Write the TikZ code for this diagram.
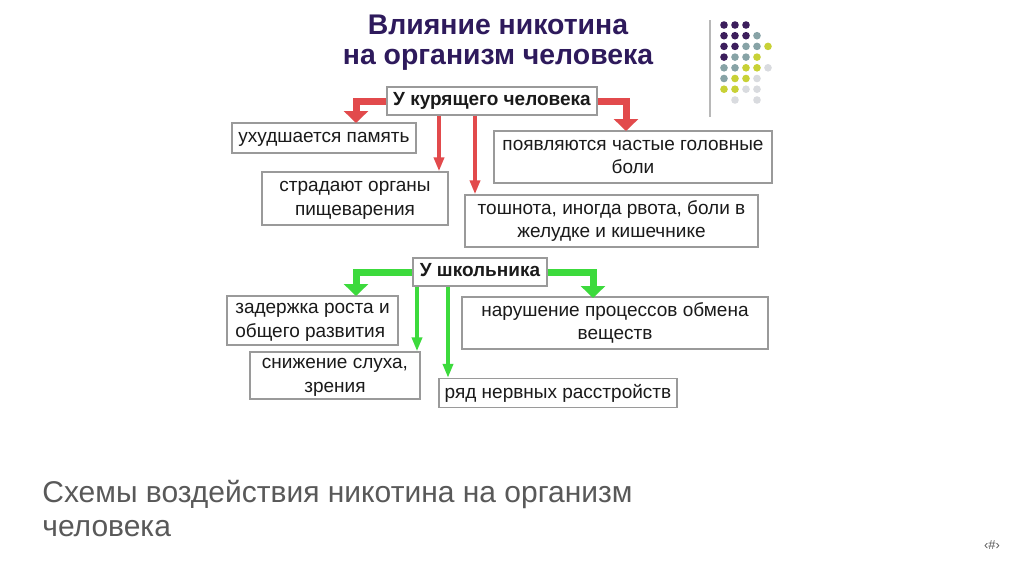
\documentclass[tikz,border=0pt]{standalone}
\usepackage{fontspec}
\setmainfont{Liberation Sans}
\usetikzlibrary{arrows.meta}
\definecolor{titlec}{HTML}{2E1A5C}
\definecolor{boxgray}{HTML}{9A9A9A}
\definecolor{txt}{HTML}{1A1A1A}
\definecolor{capc}{HTML}{595959}
\definecolor{arrred}{HTML}{E24A4C}
\definecolor{arrgreen}{HTML}{3CDA3C}
\definecolor{dP}{HTML}{3C1E5C}
\definecolor{dT}{HTML}{87A3A6}
\definecolor{dY}{HTML}{C8D136}
\definecolor{dG}{HTML}{D9DBDF}
\newcommand\mystrut{\rule[-2pt]{0pt}{8.8pt}}
\tikzset{
  box/.style={draw=boxgray, line width=0.7pt, fill=white, inner sep=0pt, text=txt,
    font=\fontsize{9.5}{11.8}\selectfont, align=center},
  headbox/.style={box, font=\fontsize{9.5}{11.8}\selectfont\bfseries},
  bentred/.style={draw=arrred, line width=3.5pt, line join=miter, -{Triangle[width=12pt,length=6pt]}},
  bentgreen/.style={draw=arrgreen, line width=3.5pt, line join=miter, -{Triangle[width=12pt,length=6pt]}},
  vred/.style={draw=arrred, line width=2pt, -{Triangle[width=5pt,length=7pt]}},
  vgreen/.style={draw=arrgreen, line width=2pt, -{Triangle[width=5pt,length=7pt]}},
  dot/.style={circle, inner sep=0pt, minimum size=3.8pt},
}
\begin{document}
\begin{tikzpicture}[x=0.5pt, y=-0.5pt]
\useasboundingbox[fill=white] (0,0) rectangle (1024,574);
% title
\node[text=titlec, font=\fontsize{14.2}{15}\selectfont\bfseries, align=center] (title) at (498,43)
  {Влияние никотина\\на организм человека};
% separator and dots
\draw[draw=boxgray!70, line width=0.8pt] (710,20) -- (710,117);
\foreach \row/\cols [count=\r from 0] in {
  0/{P,P,P}, 1/{P,P,P,T}, 2/{P,P,T,T,Y}, 3/{P,T,T,Y}, 4/{T,T,Y,Y,G},
  5/{T,Y,Y,G}, 6/{Y,Y,G,G}} {
  \foreach \c [count=\i from 0] in \cols {
    \node[dot, fill=d\c] (dot\r\i) at ({724+11*\i},{25+10.7*\r}) {};
  }
}
\node[dot, fill=dG] (dot71) at (735,100) {};
\node[dot, fill=dG] (dot73) at (757,100) {};
% smoker block
\node[headbox, minimum width=105pt, minimum height=14pt] (smoker) at (492,101) {\mystrut У курящего человека};
\node[box, minimum width=92pt, minimum height=15pt] (mem) at (324,138) {\mystrut ухудшается память};
\node[box, minimum width=93pt, minimum height=26.5pt] (dig) at (355,198.5) {\mystrut страдают органы\\пищеварения\mystrut};
\node[box, minimum width=139pt, minimum height=26pt] (head) at (633,157) {\mystrut появляются частые головные\\боли\mystrut};
\node[box, minimum width=146.5pt, minimum height=26pt] (naus) at (611.5,221) {\mystrut тошнота, иногда рвота, боли в\\желудке и кишечнике\mystrut};
\coordinate (r1) at (439,0);
\coordinate (r2) at (475,0);
\coordinate (ra) at (356,123);
\coordinate (rb) at (626,131);
\draw[bentred] (smoker.west) -| (ra);
\draw[bentred] (smoker.east) -| (rb);
\draw[vred] (smoker.south -| r1) -- (dig.north -| r1);
\draw[vred] (smoker.south -| r2) -- (naus.north -| r2);
% school block
\node[headbox, minimum width=67pt, minimum height=14pt] (school) at (480,272) {\mystrut У школьника};
\node[box, minimum width=85.5pt, minimum height=24.5pt, align=left] (growth) at (312.5,320.5) {\mystrut задержка роста и\\общего развития\mystrut};
\node[box, minimum width=85pt, minimum height=23.5pt] (hear) at (335,375.5) {\mystrut снижение слуха,\\зрения\mystrut};
\node[box, minimum width=153pt, minimum height=26pt] (metab) at (615,323) {\mystrut нарушение процессов обмена\\веществ\mystrut};
\node[box, minimum width=119pt, minimum height=14.5pt] (nerv) at (558,393) {\mystrut ряд нервных расстройств};
\coordinate (g1) at (417,0);
\coordinate (g2) at (448,0);
\coordinate (ga) at (356,296);
\coordinate (gb) at (593,298);
\draw[bentgreen] (school.west) -| (ga);
\draw[bentgreen] (school.east) -| (gb);
\draw[vgreen] (school.south -| g1) -- (hear.north -| g1);
\draw[vgreen] (school.south -| g2) -- (nerv.north -| g2);
% caption
\node[anchor=north west, text=capc, font=\fontsize{15}{17}\selectfont, align=left, inner sep=0pt] (cap) at (42,480)
  {Схемы воздействия никотина на организм\\человека};
\node[text=capc, font=\fontsize{6.5}{7}\selectfont, inner sep=0pt] (num) at (992,545) {‹\#›};
\end{tikzpicture}
\end{document}
